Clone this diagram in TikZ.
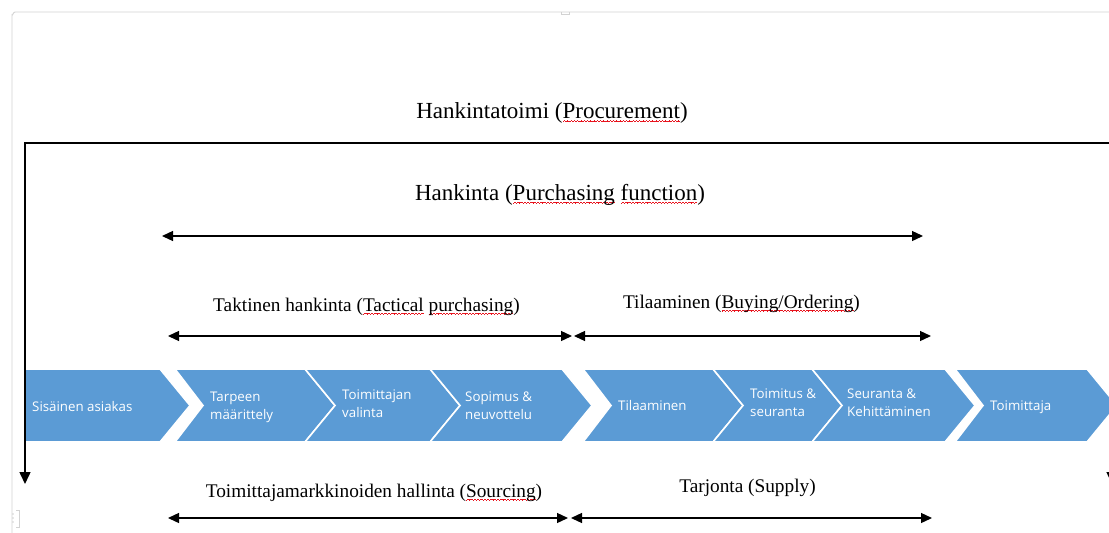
\documentclass[tikz,border=0pt]{standalone}
\usepackage{fontspec}
\setmainfont{Liberation Serif}
\newfontfamily\chevfont{Open Sans}
\usetikzlibrary{arrows.meta}
\definecolor{chevblue}{HTML}{5B9BD5}
\definecolor{framegray}{HTML}{D2D2D2}
\definecolor{squigred}{HTML}{E8141E}
\newcommand\wavebit{\hbox{\rule[-3.6pt]{0.8pt}{0.8pt}\rule[-3.0pt]{0.8pt}{0.8pt}\rule[-2.4pt]{0.8pt}{0.8pt}\rule[-3.0pt]{0.8pt}{0.8pt}}}
\newcommand\sqw[1]{\setbox0\hbox{#1}\rlap{\color{squigred}\hbox to \wd0{\xleaders\wavebit\hfill}}\box0\relax}
\begin{document}
\begin{tikzpicture}[x=1pt,y=-1pt,
  chev/.style={fill=chevblue, draw=white, line width=1.6pt, line join=miter},
  chevtext/.style={font=\chevfont\fontsize{13.3}{18}\selectfont, text=white, align=left, inner sep=0pt},
  bigtitle/.style={font=\fontsize{23}{27}\selectfont, anchor=base, inner sep=0pt},
  spanlabel/.style={font=\fontsize{19.3}{23}\selectfont, anchor=base, inner sep=0pt},
  span/.style={line width=1.3pt, {Triangle[length=11pt,width=10pt]}-{Triangle[length=11pt,width=10pt]}},
  pageframe/.style={draw=framegray, line width=0.9pt}
]
\useasboundingbox (0,0) rectangle (1109,533);
\clip (0,0) rectangle (1109,533);
\fill[white] (0,0) rectangle (1109,533);

% page frame
\draw[pageframe] (1109,12) -- (15,12) to[out=180,in=-90] (12,15) -- (12,533);
\draw[pageframe, line width=0.7pt] (561,12) -- (561,14.5) -- (569,14.5) -- (569,12);
\draw[pageframe, line width=0.6pt] (16,510) -- (19,510) -- (19,527) -- (16,527);
\fill[framegray] (13,514) circle (0.8) (13,518) circle (0.8) (13,522) circle (0.8);

% chevrons
\path[chev] (25,369) -- (160,369) -- (190,405.5) -- (160,442) -- (25,442) -- cycle;
\path[chev] (175,369) -- (305,369) -- (335,405.5) -- (305,442) -- (175,442) -- (203,405.5) -- cycle;
\path[chev] (305,369) -- (430,369) -- (460,405.5) -- (430,442) -- (305,442) -- (335,405.5) -- cycle;
\path[chev] (430,369) -- (562,369) -- (592,405.5) -- (562,442) -- (430,442) -- (460,405.5) -- cycle;
\path[chev] (583,369) -- (713,369) -- (743,405.5) -- (713,442) -- (583,442) -- (611,405.5) -- cycle;
\path[chev] (713,369) -- (812,369) -- (842,405.5) -- (812,442) -- (713,442) -- (743,405.5) -- cycle;
\path[chev] (812,369) -- (945,369) -- (975,405.5) -- (945,442) -- (812,442) -- (842,405.5) -- cycle;
\path[chev] (955,369) -- (1087,369) -- (1117,405.5) -- (1087,442) -- (955,442) -- (983,405.5) -- cycle;

\node[chevtext, anchor=base west] (c1) at (32,411) {Sisäinen asiakas};
\node[chevtext, anchor=west] (c2) at (210,407) {Tarpeen\\määrittely};
\node[chevtext, anchor=west] (c3) at (342,403.5) {Toimittajan\\valinta};
\node[chevtext, anchor=west] (c4) at (465,406) {Sopimus \&\\neuvottelu};
\node[chevtext, anchor=base west] (c5) at (618,410) {Tilaaminen};
\node[chevtext, anchor=west] (c6) at (750,403) {Toimitus \&\\seuranta};
\node[chevtext, anchor=west] (c7) at (847,403) {Seuranta \&\\Kehittäminen};
\node[chevtext, anchor=base west] (c8) at (990,410) {Toimittaja};

% procurement bracket
\coordinate (pl) at (25,484);
\coordinate (plt) at (25,143);
\coordinate (prt) at (1112,143);
\coordinate (pr) at (1112,484);
\draw[line width=1.5pt, {Triangle[length=12pt,width=11pt]}-{Triangle[length=12pt,width=11pt]}]
  (pl) -- (plt) -- (prt) -- (pr);

% titles
\node[bigtitle] (t1) at (552,118.5) {Hankintatoimi (\sqw{Procurement})};
\node[bigtitle] (t2) at (560,200) {Hankinta (\sqw{Purchasing} \sqw{function})};
\node[spanlabel] (t3) at (366.5,311) {Taktinen hankinta (\sqw{Tactical} \sqw{purchasing})};
\node[spanlabel] (t4) at (741.5,308) {Tilaaminen (\sqw{Buying/Ordering})};
\node[spanlabel] (t5) at (374,497) {Toimittajamarkkinoiden hallinta (\sqw{Sourcing})};
\node[spanlabel] (t6) at (747.5,492) {Tarjonta (Supply)};

% span arrows
\coordinate (a1l) at (162,236); \coordinate (a1r) at (923,236);
\coordinate (a2l) at (168,336); \coordinate (a2r) at (572,336);
\coordinate (a3l) at (574,336); \coordinate (a3r) at (931,336);
\coordinate (a4l) at (168,518); \coordinate (a4r) at (568,518);
\coordinate (a5l) at (571,518); \coordinate (a5r) at (932,518);
\draw[span] (a1l) -- (a1r);
\draw[span] (a2l) -- (a2r);
\draw[span] (a3l) -- (a3r);
\draw[span] (a4l) -- (a4r);
\draw[span] (a5l) -- (a5r);
\end{tikzpicture}
\end{document}
